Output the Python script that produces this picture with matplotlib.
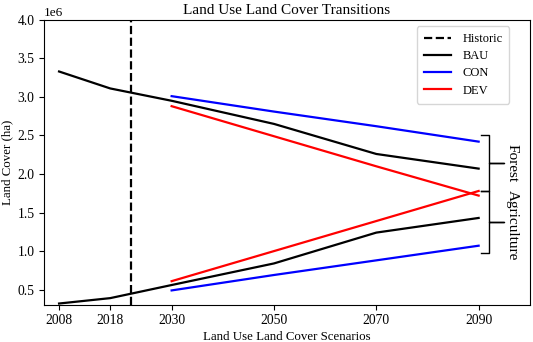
import matplotlib
matplotlib.use('Agg')
import matplotlib.pyplot as plt

plt.rcParams['font.family'] = ['Liberation Serif', 'DejaVu Serif']

# historic + BAU run the full period, CON/DEV start at 2030
years_bau = [2008, 2018, 2030, 2050, 2070, 2090]
years_scn = [2030, 2050, 2070, 2090]
tick_years = [2008, 2018, 2030, 2050, 2070, 2090]
historic_year = 2022

forest_bau = [3.33e6, 3.11e6, 2.95e6, 2.65e6, 2.26e6, 2.07e6]
forest_con = [3.01e6, 2.81e6, 2.62e6, 2.42e6]
forest_dev = [2.88e6, 2.49e6, 2.10e6, 1.72e6]

agri_bau = [0.32e6, 0.39e6, 0.56e6, 0.84e6, 1.24e6, 1.43e6]
agri_con = [0.49e6, 0.69e6, 0.88e6, 1.07e6]
agri_dev = [0.61e6, 1.00e6, 1.39e6, 1.78e6]

fig = plt.figure(figsize=(5.33, 3.42), dpi=100)
ax = fig.add_axes([0.082, 0.108, 0.912, 0.834])

ax.axvline(historic_year, color='black', linestyle='--', lw=1.6, label='Historic')
ax.plot(years_bau, forest_bau, color='black', lw=1.6, label='BAU')
ax.plot(years_scn, forest_con, color='blue', lw=1.6, label='CON')
ax.plot(years_scn, forest_dev, color='red', lw=1.6, label='DEV')
ax.plot(years_bau, agri_bau, color='black', lw=1.6)
ax.plot(years_scn, agri_con, color='blue', lw=1.6)
ax.plot(years_scn, agri_dev, color='red', lw=1.6)


def brace(top, bottom, x0=2090.5, w=1.6, tip=2.8):
    # bracket to the right of the 2090 end points
    mid = (top + bottom) / 2
    xs = [x0, x0 + w, x0 + w, x0 + w + tip, x0 + w, x0 + w, x0]
    ys = [top, top, mid, mid, mid, bottom, bottom]
    ax.plot(xs, ys, color='black', lw=1.0)
    return mid


pad = 0.09e6
split = (forest_dev[-1] + agri_dev[-1]) / 2 + 0.03e6
by = brace(forest_con[-1] + pad, split)
ax.text(2096.6, by, 'Forest', rotation=-90, va='center', ha='center', fontsize=11)
by = brace(split, agri_con[-1] - pad)
ax.text(2096.6, by - 0.05e6, 'Agriculture', rotation=-90, va='center', ha='center', fontsize=11)

ax.set_xlim(2005, 2100)
ax.set_ylim(0.3e6, 4.0e6)
ax.set_xticks(tick_years)
ax.tick_params(labelsize=9.8, length=3.5, pad=3)
ax.set_title('Land Use Land Cover Transitions', fontsize=11, pad=4)
ax.set_xlabel('Land Use Land Cover Scenarios', fontsize=9.3, labelpad=3)
ax.set_ylabel('Land Cover (ha)', fontsize=9.3, labelpad=3)
ax.yaxis.get_offset_text().set_fontsize(9.5)
ax.legend(loc='upper right', bbox_to_anchor=(0.958, 0.978), borderaxespad=0,
          fontsize=9, handlelength=2.2, borderpad=0.55, labelspacing=0.42,
          handletextpad=0.9)

fig.savefig('out.png', dpi=100)
